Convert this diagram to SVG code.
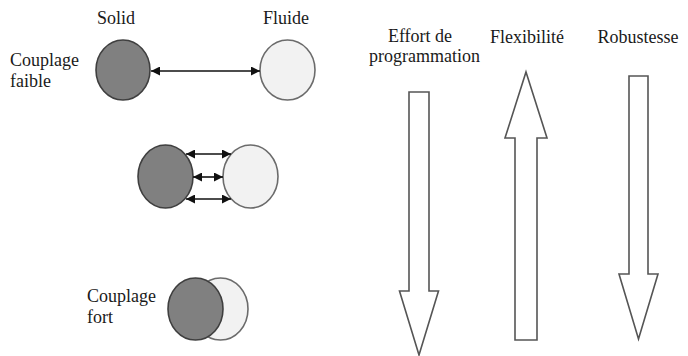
<svg xmlns="http://www.w3.org/2000/svg" width="688" height="356" viewBox="0 0 688 356">
<style>
.t{font-family:"Liberation Serif","Times New Roman",serif;font-size:18px;fill:#1a1a1a}
.solid{fill:#808080;stroke:#3f3f3f;stroke-width:1.6}
.fluid{fill:#f2f2f2;stroke:#6b6b6b;stroke-width:1.6}
.link{stroke:#111;stroke-width:1.6;fill:none;marker-start:url(#ah);marker-end:url(#ah)}
.big{fill:#fff;stroke:#555;stroke-width:1.6;stroke-linejoin:miter}
</style>
<defs>
<marker id="ah" viewBox="0 0 10 10" refX="10" refY="5" markerWidth="10" markerHeight="9" markerUnits="userSpaceOnUse" orient="auto-start-reverse">
<path d="M0,0 L10,5 L0,10 Z" fill="#111"/>
</marker>
</defs>
<rect width="688" height="356" fill="#fff"/>
<g id="labels">
<text class="t" x="97" y="24">Solid</text>
<text class="t" x="263" y="24">Fluide</text>
<text class="t" x="10" y="66">Couplage</text>
<text class="t" x="10" y="87">faible</text>
<text class="t" x="87" y="302">Couplage</text>
<text class="t" x="87" y="323">fort</text>
</g>
<g id="weak">
<ellipse class="solid" cx="123" cy="70" rx="27" ry="30"/>
<ellipse class="fluid" cx="287.5" cy="70" rx="27.5" ry="30"/>
</g>
<g id="medium">
<ellipse class="solid" cx="165.5" cy="176.5" rx="27.5" ry="31.5"/>
<ellipse class="fluid" cx="250.5" cy="176.5" rx="27.5" ry="31.5"/>
</g>
<g id="strong">
<ellipse class="fluid" cx="220.5" cy="309" rx="27.5" ry="31"/>
<ellipse class="solid" cx="195.5" cy="309" rx="27.5" ry="31"/>
</g>
<g id="connectors">
<line class="link" x1="151" y1="71" x2="260" y2="71"/>
<line class="link" x1="186" y1="154" x2="231" y2="154"/>
<line class="link" x1="193" y1="177" x2="223" y2="177"/>
<line class="link" x1="186" y1="199" x2="231" y2="199"/>
</g>
<g id="effort">
<text class="t" x="420" y="42" text-anchor="middle">Effort de</text>
<text class="t" x="424.5" y="62" text-anchor="middle">programmation</text>
<path class="big" d="M409,92 H429 V291 H438.5 L419,355 L399.5,291 H409 Z"/>
</g>
<g id="flexibilite">
<text class="t" x="527" y="43" text-anchor="middle">Flexibilité</text>
<path class="big" d="M526,72 L547,138 H537 V340 H515 V138 H505 Z"/>
</g>
<g id="robustesse">
<text class="t" x="638" y="43" text-anchor="middle">Robustesse</text>
<path class="big" d="M629,76 H648 V274 H658 L638.5,339 L619,274 H629 Z"/>
</g>
</svg>
